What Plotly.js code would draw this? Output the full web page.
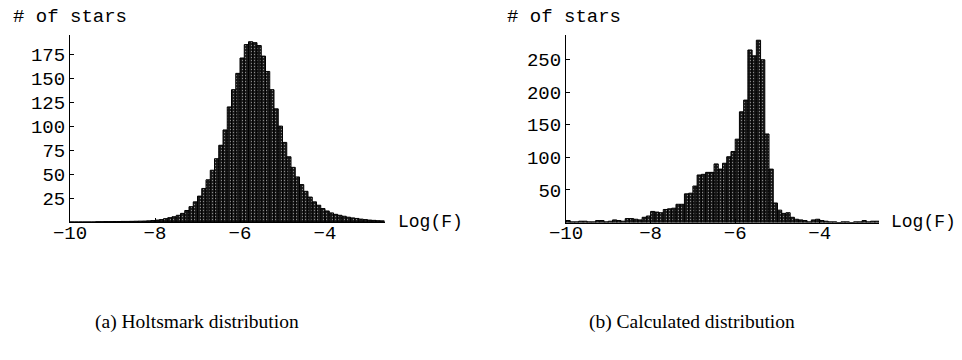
<!DOCTYPE html>
<html>
<head>
<meta charset="utf-8">
<script src="https://cdn.plot.ly/plotly-3.0.1.min.js"></script>
<style>html,body{margin:0;padding:0;background:#fff;}#chart{width:962px;height:360px;}</style>
</head>
<body>
<div id="chart"></div>
<script>
// Bins of Log(F), width 0.1, from -10 to -2.6
const binStart = -10;
const binWidth = 0.1;

// (a) Holtsmark distribution: counts per bin
const holtsmarkCounts = [
  0, 0, 0, 0, 0, 0, 0.3, 0.3, 0.4, 0.4,
  0.5, 0.5, 0.6, 0.6, 0.7, 0.8, 0.9, 1, 1.2, 1.5,
  2, 2.5, 3.5, 4.5, 5.5, 7, 9, 12, 16, 21,
  27, 35, 44, 54, 66, 80, 96, 120, 138, 155,
  171, 185, 188, 187, 184, 173, 157, 138, 118, 100,
  83, 68, 57, 47, 39, 32, 26, 21, 17.5, 14,
  11.5, 9.5, 8, 7, 6, 5, 4.3, 3.7, 3, 2.5,
  2, 1.7, 1.4, 1.2
];

// (b) Calculated distribution: counts per bin
const calculatedCounts = [
  3, 1, 1, 2, 2, 1, 1, 3, 3, 1,
  2, 4, 3, 2, 6, 6, 5, 4, 8, 10,
  17, 16, 15, 20, 21, 22, 28, 28, 44, 45,
  56, 73, 74, 77, 77, 90, 82, 91, 101, 109,
  128, 170, 188, 265, 256, 280, 250, 136, 82, 30,
  19, 14, 15, 8, 5, 4, 3, 1, 4, 5,
  3, 2, 1, 1, 0, 1, 1, 0, 1, 1,
  3, 1, 2, 2
];

const xTicks = [-10, -8, -6, -4];
const yTicksA = [25, 50, 75, 100, 125, 150, 175];
const yTicksB = [50, 100, 150, 200, 250];

const axisLabelY = '# of stars';
const axisLabelX = 'Log(F)';
const captionA = '(a) Holtsmark distribution';
const captionB = '(b) Calculated distribution';

const centersA = holtsmarkCounts.map((_, i) => binStart + binWidth * (i + 0.5));
const centersB = calculatedCounts.map((_, i) => binStart + binWidth * (i + 0.5));
const xEnd = binStart + binWidth * holtsmarkCounts.length;

const W = 962, H = 360;
const px = v => v / W;
const py = v => (H - v) / H;

const mono = 'Liberation Mono, Courier New, monospace';
const serif = 'Liberation Serif, Times New Roman, serif';

const barStyle = {
  color: '#161616',
  line: {color: '#000', width: 1},
  pattern: {shape: '.', bgcolor: '#161616', fgcolor: '#8a8a8a', size: 3, solidity: 0.15, fillmode: 'replace'}
};

const traces = [
  {type: 'bar', x: centersA, y: holtsmarkCounts, width: binWidth, xaxis: 'x', yaxis: 'y',
   marker: barStyle, hoverinfo: 'skip'},
  {type: 'bar', x: centersB, y: calculatedCounts, width: binWidth, xaxis: 'x2', yaxis: 'y2',
   marker: barStyle, hoverinfo: 'skip'}
];

const xCommon = {
  range: [binStart, xEnd], tickvals: xTicks, showline: true, linecolor: '#000', linewidth: 1,
  ticks: 'inside', ticklen: 4, tickcolor: '#000', showgrid: false, zeroline: false,
  ticklabelstandoff: -7,
  tickfont: {family: mono, size: 19, color: '#000'}, fixedrange: true
};
const yCommon = {
  showline: true, linecolor: '#000', linewidth: 1, ticks: 'inside', ticklen: 4, tickcolor: '#000',
  showgrid: false, zeroline: false, tickfont: {family: mono, size: 19, color: '#000'}, fixedrange: true
};

const layout = {
  width: W, height: H, margin: {l: 0, r: 0, t: 0, b: 0},
  paper_bgcolor: '#fff', plot_bgcolor: 'rgba(0,0,0,0)', showlegend: false, bargap: 0,
  xaxis: Object.assign({}, xCommon, {domain: [px(70), px(384.5)], anchor: 'y'}),
  yaxis: Object.assign({}, yCommon, {domain: [py(222), py(35)], range: [0, 195], tickvals: yTicksA, anchor: 'x'}),
  xaxis2: Object.assign({}, xCommon, {domain: [px(566), px(879)], anchor: 'y2'}),
  yaxis2: Object.assign({}, yCommon, {domain: [py(222.5), py(35)], range: [0, 288], tickvals: yTicksB, anchor: 'x2'}),
  annotations: [
    {text: axisLabelY, xref: 'paper', yref: 'paper', x: px(11), y: py(17), xanchor: 'left', yanchor: 'middle',
     showarrow: false, font: {family: mono, size: 19, color: '#000'}},
    {text: axisLabelY, xref: 'paper', yref: 'paper', x: px(505), y: py(17), xanchor: 'left', yanchor: 'middle',
     showarrow: false, font: {family: mono, size: 19, color: '#000'}},
    {text: axisLabelX, xref: 'paper', yref: 'paper', x: px(396), y: py(222), xanchor: 'left', yanchor: 'middle',
     showarrow: false, font: {family: mono, size: 18, color: '#000'}},
    {text: axisLabelX, xref: 'paper', yref: 'paper', x: px(889), y: py(222), xanchor: 'left', yanchor: 'middle',
     showarrow: false, font: {family: mono, size: 18, color: '#000'}},
    {text: captionA, xref: 'paper', yref: 'paper', x: px(197), y: py(322), xanchor: 'center', yanchor: 'middle',
     showarrow: false, font: {family: serif, size: 19.5, color: '#000'}},
    {text: captionB, xref: 'paper', yref: 'paper', x: px(692), y: py(322), xanchor: 'center', yanchor: 'middle',
     showarrow: false, font: {family: serif, size: 19.5, color: '#000'}}
  ]
};

Plotly.newPlot('chart', traces, layout, {staticPlot: true, displayModeBar: false});
</script>
</body>
</html>
